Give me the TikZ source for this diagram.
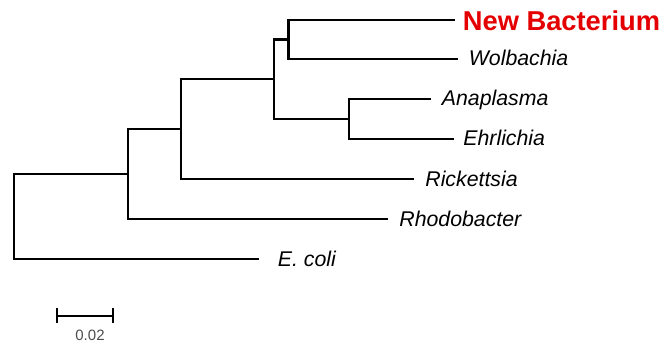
\documentclass[tikz,border=0pt]{standalone}
\usepackage{fontspec}
\setmainfont{Liberation Sans}
\definecolor{newred}{RGB}{228,0,0}
\tikzset{every picture/.style={line width=0.75pt}}
\tikzset{
  branch/.style={line width=2.1pt, line join=miter},
  taxon/.style={anchor=base west, inner sep=0pt, font=\fontsize{21.3}{25}\selectfont\itshape},
  newtaxon/.style={anchor=base west, inner sep=0pt, text=newred, font=\fontsize{27.3}{31}\selectfont\bfseries},
  barlabel/.style={anchor=base, inner sep=0pt, text=black!70, font=\fontsize{15}{17}\selectfont},
}

\begin{document}
\begin{tikzpicture}[x=1pt,y=1pt,yscale=-1,xscale=1]
\useasboundingbox (0,0) rectangle (672,342);
% leaves
\coordinate (nb)  at (455,19.7);
\coordinate (wol) at (457.7,59.3);
\coordinate (ana) at (431,99.3);
\coordinate (ehr) at (454,139.3);
\coordinate (ric) at (414,179);
\coordinate (rho) at (387.7,218.7);
\coordinate (eco) at (259.3,258.7);
% inner nodes
\coordinate (n1)   at (288.5,39.5);
\coordinate (n2)   at (348.7,119.3);
\coordinate (n3)   at (274,79.4);
\coordinate (n4)   at (181.3,129.2);
\coordinate (n5)   at (127.7,174);
\coordinate (root) at (14.3,216.3);
% branches
\draw[branch] (nb) -| (n1) |- (wol);
\draw[branch] (ana) -| (n2) |- (ehr);
\draw[branch] (n1) -| (n3) |- (n2);
\draw[branch] (n3) -| (n4) |- (ric);
\draw[branch] (n4) -| (n5) |- (rho);
\draw[branch] (n5) -| (root) |- (eco);
% labels
\node[newtaxon] (lnb) at (462.5,30.7) {New Bacterium};
\node[taxon] (lwol) at (468.5,65.5) {Wolbachia};
\node[taxon] (lana) at (441.5,106) {Anaplasma};
\node[taxon] (lehr) at (463,146) {Ehrlichia};
\node[taxon] (lric) at (425,186.5) {Rickettsia};
\node[taxon] (lrho) at (399,226.5) {Rhodobacter};
\node[taxon] (leco) at (277.5,266) {E. coli};
% scale bar
\coordinate (sbl) at (56.7,315.7);
\coordinate (sbr) at (113.3,315.7);
\draw[branch] (sbl) -- (sbr);
\draw[branch] ([yshift=-7.5pt]sbl) -- ([yshift=7.5pt]sbl);
\draw[branch] ([yshift=-7.5pt]sbr) -- ([yshift=7.5pt]sbr);
\node[barlabel] (lbar) at (90,340) {0.02};
\end{tikzpicture}
\end{document}
